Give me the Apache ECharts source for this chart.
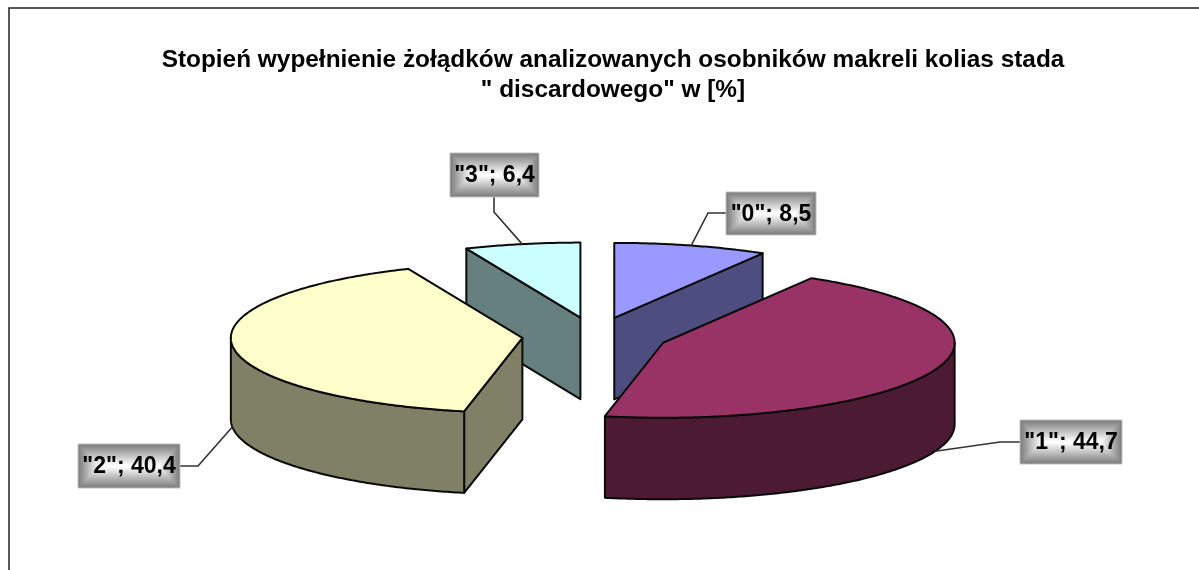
<!DOCTYPE html>
<html>
<head>
<meta charset="utf-8">
<style>html,body{margin:0;padding:0;background:#fff}#c{width:1199px;height:570px}</style>
<script src="https://cdn.jsdelivr.net/npm/echarts@6/dist/echarts.min.js"></script>
</head>
<body>
<div id="c"></div>
<script>
// data
const categories = ['"0"', '"1"', '"2"', '"3"'];
const values = [8.5, 44.7, 40.4, 6.4];
const topColors = ['#9999FF', '#993366', '#FFFFCC', '#CCFFFF'];
const sideColors = ['#4D4D80', '#4D1A33', '#808066', '#668080'];
const titleLines = ['Stopień wypełnienie żołądków analizowanych osobników makreli kolias stada', '" discardowego" w [%]'];

// pie geometry
const geo = { cx: 595, cy: 336, rx: 291.5, ry: 75, depth: 81.5, explode: 73 };
// label boxes: centre position, size, elbow of the leader line
const labelBoxes = [
  { x: 771, y: 213.5, w: 90, h: 43, ex: 708, ey: 213, ax: 726, ay: 213 },
  { x: 1071, y: 442, w: 102, h: 44, ex: 1000, ey: 442, ax: 1020, ay: 442 },
  { x: 129, y: 466, w: 102, h: 44, ex: 198, ey: 466, ax: 180, ay: 466 },
  { x: 494.5, y: 175, w: 89, h: 44, ex: 494, ey: 212, ax: 494, ay: 197 }
];

const total = values.reduce((a, b) => a + b, 0);
const starts = [];
values.reduce((acc, v, i) => { starts[i] = acc; return acc + v; }, 0);
const toAngle = v => echarts.number.linearMap(v, [0, total], [0, Math.PI * 2]);

function centreOf(i) {
  const m = toAngle(starts[i] + values[i] / 2);
  return {
    x: geo.cx + geo.explode * Math.sin(m),
    y: geo.cy - geo.explode * (geo.ry / geo.rx) * Math.cos(m)
  };
}
function rim(c, a, dy) {
  return [c.x + geo.rx * Math.sin(a), c.y - geo.ry * Math.cos(a) + (dy || 0)];
}
function arc(c, a0, a1, dy) {
  const n = Math.max(2, Math.ceil((a1 - a0) / 0.01));
  const pts = [];
  for (let k = 0; k <= n; k++) pts.push(rim(c, a0 + (a1 - a0) * k / n, dy));
  return pts;
}
const strokeStyle = (fill) => ({ fill, stroke: '#0A0A0A', lineWidth: 2, lineJoin: 'round' });

function labelBackground(b) {
  // rectangular "path" gradient: grey edge into a white centre
  const steps = 22, out = [];
  out.push({ type: 'rect', z2: 100, shape: { x: b.x - b.w / 2, y: b.y - b.h / 2, width: b.w, height: b.h },
    style: { fill: '#7C7C7C', stroke: '#C0C0C0', lineWidth: 1 } });
  const inset = Math.min(b.w, b.h) / 2;
  for (let k = 1; k <= steps; k++) {
    const t = k / steps, d = inset * t;
    const g = Math.round(124 + 131 * Math.min(1, t * 1.05));
    out.push({ type: 'rect', z2: 100 + k, shape: { x: b.x - b.w / 2 + d, y: b.y - b.h / 2 + d, width: b.w - 2 * d, height: Math.max(0.5, b.h - 2 * d) },
      style: { fill: `rgb(${g},${g},${g})` } });
  }
  return out;
}

function renderSlice(params, api) {
  const i = api.value(0);
  const v = api.value(1);
  const c = centreOf(i);
  const a0 = toAngle(starts[i]);
  const a1 = a0 + toAngle(v);
  const d = geo.depth;
  const kids = [];
  const side = sideColors[i];
  // radial faces
  if (-Math.sin(a0) > 1e-6) {
    const p = rim(c, a0);
    kids.push({ type: 'polygon', shape: { points: [[c.x, c.y], p, [p[0], p[1] + d], [c.x, c.y + d]] }, style: strokeStyle(side) });
  }
  if (Math.sin(a1) > 1e-6) {
    const p = rim(c, a1);
    kids.push({ type: 'polygon', shape: { points: [[c.x, c.y], p, [p[0], p[1] + d], [c.x, c.y + d]] }, style: strokeStyle(side) });
  }
  // outer wall, only the part that faces the viewer
  const w0 = Math.max(a0, Math.PI / 2), w1 = Math.min(a1, Math.PI * 1.5);
  if (w1 > w0) {
    const upper = arc(c, w0, w1, 0);
    const lower = arc(c, w0, w1, d).reverse();
    kids.push({ type: 'polygon', shape: { points: upper.concat(lower) }, style: strokeStyle(side) });
  }
  // top face
  kids.push({ type: 'polygon', shape: { points: [[c.x, c.y]].concat(arc(c, a0, a1, 0)) }, style: strokeStyle(topColors[i]) });

  // label with leader
  const m = (a0 + a1) / 2;
  const anchor = rim(c, m, Math.cos(m) < 0 ? d : 0);
  const b = labelBoxes[i];
  kids.push({ type: 'polyline', z2: 90, shape: { points: [[b.ax, b.ay], [b.ex, b.ey], anchor] },
    style: { fill: null, stroke: '#333', lineWidth: 1.6 } });
  labelBackground(b).forEach(e => kids.push(e));
  kids.push({ type: 'text', z2: 130, style: {
    x: b.x, y: b.y + 1, text: categories[i] + '; ' + String(v).replace('.', ','),
    align: 'center', verticalAlign: 'middle', fill: '#000',
    font: 'bold 23px "Liberation Sans", Arial, sans-serif' } });
  return { type: 'group', children: kids };
}

// back slices first
const drawOrder = values.map((_, i) => i).sort((p, q) => centreOf(p).y - centreOf(q).y || q - p);

const chart = echarts.init(document.getElementById('c'), null, { renderer: 'canvas' });
chart.setOption({
  animation: false,
  backgroundColor: '#fff',
  title: {
    text: titleLines.join('\n'),
    left: 608, top: 40, textAlign: 'center',
    textStyle: { fontFamily: '"Liberation Sans", Arial, sans-serif', fontWeight: 'bold', fontSize: 24.4, lineHeight: 30, color: '#000' }
  },
  graphic: [{ type: 'rect', silent: true, shape: { x: 9, y: 8, width: 1300, height: 700 },
    style: { fill: 'none', stroke: '#222', lineWidth: 1.5 } }],
  series: [{
    type: 'custom',
    coordinateSystem: 'none',
    renderItem: renderSlice,
    encode: { value: 1 },
    data: drawOrder.map(i => [i, values[i]])
  }]
});
</script>
</body>
</html>
